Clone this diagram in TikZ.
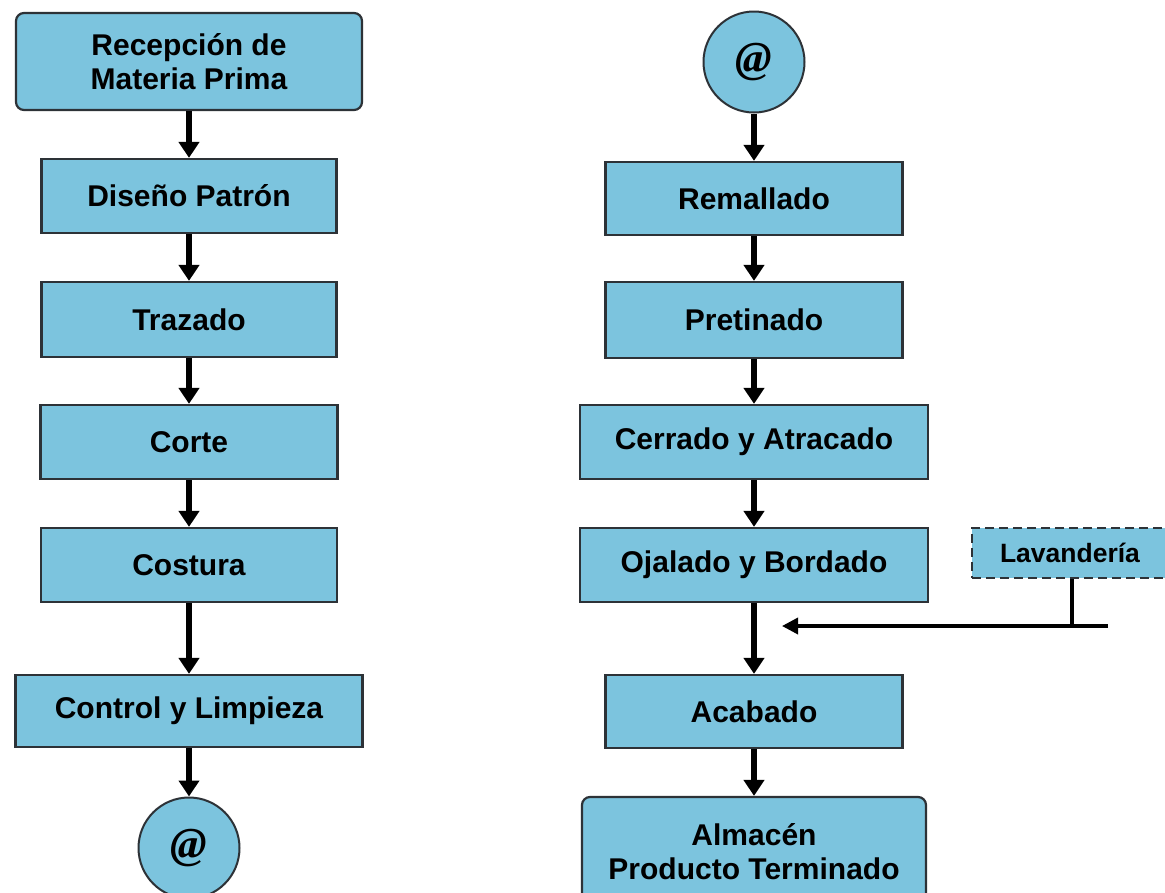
\documentclass[tikz,border=0pt]{standalone}
\usepackage{fontspec}
\setmainfont{Liberation Sans}
\newfontfamily\atfont{Liberation Serif}
\usetikzlibrary{arrows.meta}
\definecolor{boxblue}{RGB}{124,196,222}
\definecolor{boxline}{RGB}{45,50,55}
\tikzset{
  pbox/.style={draw=boxline, line width=2.2pt, fill=boxblue, inner sep=0pt,
    align=center, font=\bfseries\fontsize{30}{34}\selectfont, text=black},
  rbox/.style={pbox, rounded corners=8pt},
  conn/.style={draw=boxline, fill=boxblue, circle, line width=2pt, inner sep=0pt,
    minimum size=101pt, font=\atfont\bfseries\itshape\fontsize{44}{44}\selectfont},
  flow/.style={line width=5.5pt, -{Triangle[width=20pt,length=16pt]}},
  lavbox/.style={draw=boxline, line width=2pt, dash pattern=on 9pt off 5pt,
    fill=boxblue, inner sep=0pt},
}
\begin{document}
\begin{tikzpicture}[x=1pt,y=-1pt]
\useasboundingbox[fill=white] (0,0) rectangle (1165,892);
\begin{scope}
\clip (0,0) rectangle (1165,892);
% left column
\node[rbox, minimum width=346pt, minimum height=97pt] (rec) at (189,61.5) {Recepción de\\Materia Prima};
\node[pbox, minimum width=295pt, minimum height=74pt] (dis) at (189,196) {Diseño Patrón};
\node[pbox, minimum width=295pt, minimum height=75pt] (tra) at (189,319.5) {Trazado};
\node[pbox, minimum width=297pt, minimum height=74pt] (cor) at (189,442) {Corte};
\node[pbox, minimum width=296pt, minimum height=74pt] (cos) at (189,565) {Costura};
\node[pbox, minimum width=347pt, minimum height=72pt] (con) at (189,711) {Control y Limpieza};
\node[conn] (c1) at (189,848) {@};
% right column
\node[conn] (c2) at (754,62) {@};
\node[pbox, minimum width=297pt, minimum height=73pt] (rem) at (754,198.5) {Remallado};
\node[pbox, minimum width=297pt, minimum height=76pt] (pre) at (754,320) {Pretinado};
\node[pbox, minimum width=348pt, minimum height=74pt] (cer) at (754,442) {Cerrado y Atracado};
\node[pbox, minimum width=348pt, minimum height=74pt] (oja) at (754,565) {Ojalado y Bordado};
\node[pbox, minimum width=297pt, minimum height=73pt] (aca) at (754,711.5) {Acabado};
\node[rbox, minimum width=344pt, minimum height=110pt] (alm) at (754,852) {Almacén\\Producto Terminado};
% lavanderia
\node[lavbox, minimum width=210pt, minimum height=50pt] (lavbg) at (1077,553) {};
\node[font=\bfseries\fontsize{26.5}{30}\selectfont, inner sep=0pt] (lav) at (1070,553) {Lavandería};
\coordinate (jn) at (1072,626);
\coordinate (re) at (1108,626);
\coordinate (tip) at (782,626);
% arrows
\draw[flow] (rec.south) -- (dis.north);
\draw[flow] (dis.south) -- (tra.north);
\draw[flow] (tra.south) -- (cor.north);
\draw[flow] (cor.south) -- (cos.north);
\draw[flow] (cos.south) -- (con.north);
\draw[flow] (con.south) -- (c1.north);
\draw[flow] (c2.south) -- (rem.north);
\draw[flow] (rem.south) -- (pre.north);
\draw[flow] (pre.south) -- (cer.north);
\draw[flow] (cer.south) -- (oja.north);
\draw[flow] (oja.south) -- (aca.north);
\draw[flow] (aca.south) -- (alm.north);
\draw[line width=4.5pt] (lavbg.south -| jn) -- (jn);
\draw[line width=3.5pt, -{Triangle[width=16pt,length=16pt]}] (re) -- (tip);
\end{scope}
\end{tikzpicture}
\end{document}
